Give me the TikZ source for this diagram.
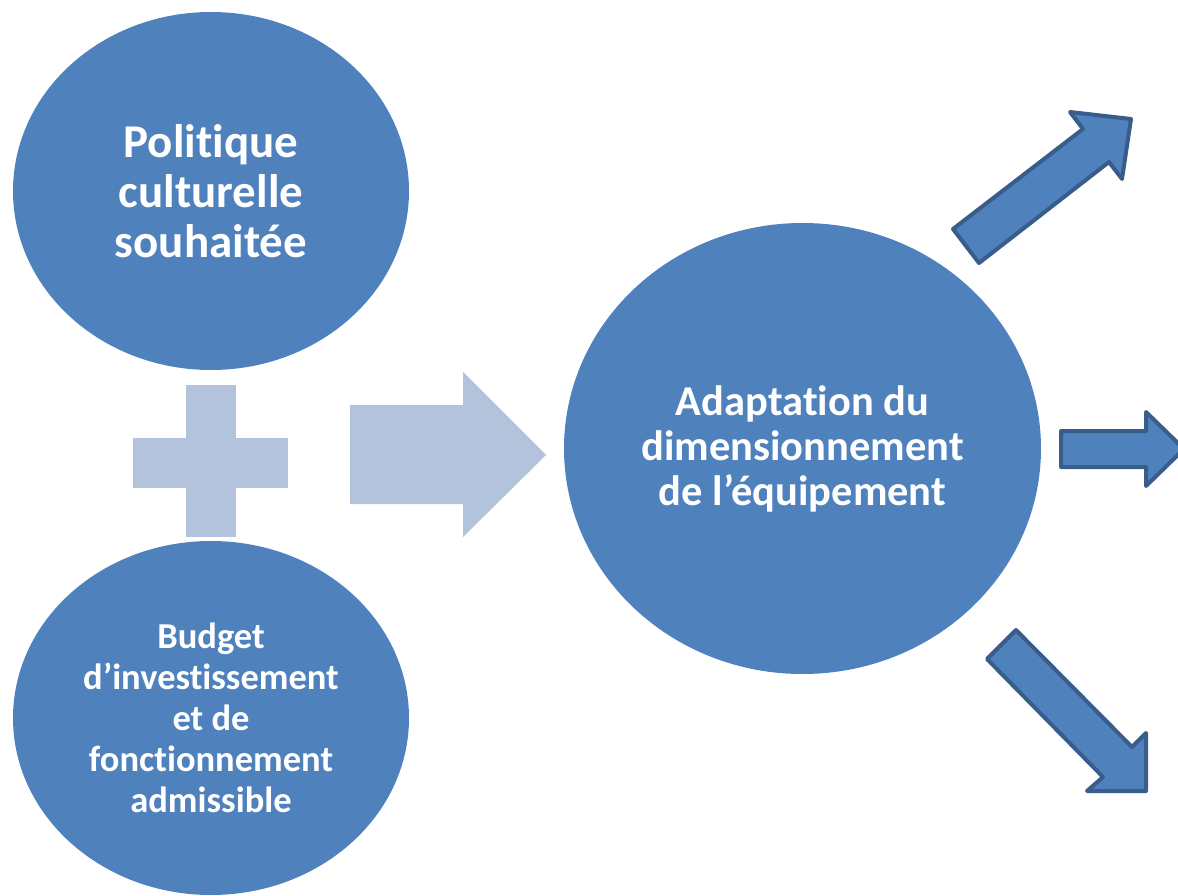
\documentclass[tikz,border=0pt]{standalone}
\usepackage{fontspec}
\setmainfont{Carlito}[Ligatures={NoCommon,NoContextual}]
\usetikzlibrary{shapes.geometric}
\definecolor{circblue}{HTML}{4F81BD}
\definecolor{lightblue}{HTML}{B3C3DC}
\definecolor{edgeblue}{HTML}{385D8A}
\newcommand{\nolig}{\kern0pt}
\tikzset{
  bubble/.style={ellipse, fill=circblue, inner sep=0pt, text=white, align=center, font=\bfseries},
  lightshape/.style={fill=lightblue, draw=none},
  blockarrow/.style={fill=circblue, draw=edgeblue, line width=4pt, line join=round}
}
\begin{document}
\begin{tikzpicture}[x=1pt,y=-1pt]
\useasboundingbox (0,0) rectangle (1178,896);
% circles
\node[bubble, minimum width=396pt, minimum height=358pt,
      font=\bfseries\fontsize{47}{50}\selectfont] (pol) at (211,191)
  {Polit\nolig ique\\culturelle\\souhaitée};
\node[bubble, minimum width=396pt, minimum height=354pt,
      font=\bfseries\fontsize{36.5}{41}\selectfont] (bud) at (211,718)
  {Budget\\d’investissement\\et de\\fonct\nolig ionnement\\admissible};
\node[bubble, minimum width=477pt, minimum height=451pt,
      font=\bfseries\fontsize{42.5}{45}\selectfont] (adapt) at (802.5,448.5)
  {Adaptat\nolig ion du\\dimensionnement\\de l’équipement};
% plus sign
\fill[lightshape] (186,385) rectangle (236,537);
\fill[lightshape] (133,438) rectangle (288,488);
% big light arrow
\fill[lightshape] (350,405) -- (463,405) -- (463,372) -- (546,455)
  -- (463,537) -- (463,504) -- (350,504) -- cycle;
% right block arrows
\draw[blockarrow] (953,229) -- (1083,129) -- (1070,112) -- (1131,119)
  -- (1122,179) -- (1109,162) -- (979,263) -- cycle;
\draw[blockarrow] (1061,431) -- (1146,431) -- (1146,412) -- (1184,449)
  -- (1146,486) -- (1146,467) -- (1061,467) -- cycle;
\draw[blockarrow] (1016,630) -- (1132,747) -- (1146,733) -- (1146,791)
  -- (1087,791) -- (1103,777) -- (987,659) -- cycle;
\end{tikzpicture}
\end{document}
